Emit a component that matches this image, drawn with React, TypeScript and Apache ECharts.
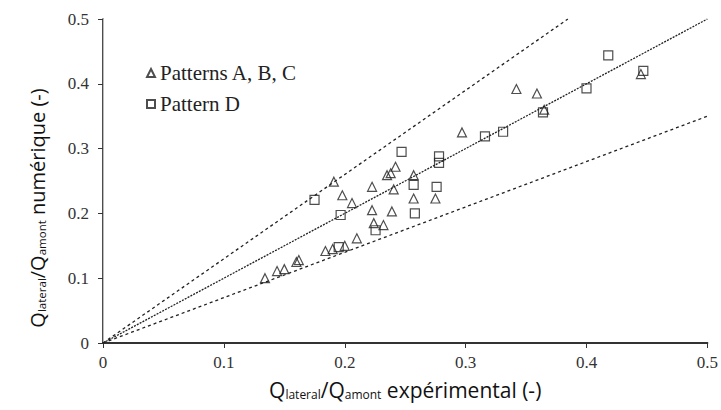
import React, { useEffect, useRef } from "react";
import * as echarts from "echarts";

const xTicks = [0, 0.1, 0.2, 0.3, 0.4, 0.5];
const yTicks = [0, 0.1, 0.2, 0.3, 0.4, 0.5];

// Patterns A, B, C (triangles): [Q exp, Q num]
const patternsABC: number[][] = [
  [0.134, 0.1], [0.144, 0.111], [0.15, 0.114], [0.16, 0.125], [0.162, 0.128],
  [0.184, 0.142], [0.19, 0.145], [0.2, 0.15], [0.21, 0.1615],
  [0.224, 0.185], [0.232, 0.182], [0.2226, 0.205], [0.239, 0.203],
  [0.257, 0.223], [0.275, 0.223], [0.198, 0.228], [0.206, 0.216],
  [0.2226, 0.241], [0.2405, 0.237], [0.191, 0.249], [0.235, 0.259],
  [0.238, 0.262], [0.257, 0.259], [0.242, 0.272], [0.297, 0.325],
  [0.342, 0.392], [0.359, 0.385], [0.365, 0.36], [0.445, 0.415],
];

// Pattern D (squares)
const patternD: number[][] = [
  [0.175, 0.221], [0.195, 0.148], [0.1966, 0.1975], [0.2255, 0.174],
  [0.258, 0.2], [0.257, 0.244], [0.276, 0.241], [0.247, 0.295],
  [0.278, 0.288], [0.278, 0.278], [0.316, 0.319], [0.331, 0.326],
  [0.364, 0.356], [0.4, 0.393], [0.418, 0.444], [0.447, 0.42],
];

// reference lines: 1:1, +30 %, -30 %
const lineEqual: number[][] = [[0, 0], [0.5, 0.5]];
const lineUpper: number[][] = [[0, 0], [0.3846, 0.5]];
const lineLower: number[][] = [[0, 0], [0.5, 0.35]];

const xTitle = "{m|Q}{s|lateral}{m|/Q}{s|amont}{m| expérimental (-)}";
const yTitle = "{m|Q}{s|lateral}{m|/Q}{s|amont}{m| numérique (-)}";

const serif = "Liberation Serif";
const sans = "Open Sans";

const titleRich = {
  m: { fontFamily: sans, fontSize: 21, fill: "#111", color: "#111", lineHeight: 26, verticalAlign: "bottom" },
  s: { fontFamily: sans, fontSize: 12, fill: "#111", color: "#111", lineHeight: 12, verticalAlign: "bottom" },
};
const yTitleRich = {
  m: { ...titleRich.m, fontSize: 20 },
  s: { ...titleRich.s, fontSize: 11.5 },
};

const fmt = (ticks: number[]) => (v: number) =>
  String(ticks.find((t) => Math.abs(t - v) < 1e-9) ?? v);

export default function App() {
  const ref = useRef<HTMLDivElement>(null);
  useEffect(() => {
    if (!ref.current) return;
    const chart = echarts.init(ref.current, undefined, { renderer: "svg" });
    chart.setOption({
      animation: false,
      backgroundColor: "#fff",
      textStyle: { fontFamily: serif },
      grid: { left: 103, right: 12, top: 19, bottom: 67 },
      legend: {
        orient: "vertical",
        left: 141,
        top: 57,
        itemWidth: 8,
        itemHeight: 8,
        itemGap: 9,
        textStyle: { fontFamily: serif, fontSize: 21, color: "#222", lineHeight: 22 },
        data: [
          { name: "Patterns A, B, C", icon: "triangle" },
          { name: "Pattern D", icon: "rect" },
        ],
      },
      graphic: [
        {
          type: "text",
          x: 34,
          y: 208,
          rotation: Math.PI / 2,
          style: {
            text: yTitle,
            rich: yTitleRich,
            align: "center",
            verticalAlign: "middle",
          },
        },
      ],
      xAxis: [
        {
          type: "value",
          min: 0,
          max: 0.5,
          interval: 0.1,
          splitLine: { show: false },
          axisLine: { onZero: false, lineStyle: { color: "#111", width: 1.5 } },
          axisTick: { length: 5, lineStyle: { color: "#333" } },
          axisLabel: {
            fontFamily: serif,
            fontSize: 17,
            color: "#333",
            margin: 11,
            formatter: fmt(xTicks),
          },
          name: xTitle,
          nameLocation: "middle",
          nameGap: 31,
          nameTextStyle: { rich: titleRich },
        },
        {
          type: "value",
          position: "top",
          min: 0,
          max: 0.5,
          axisLine: { show: true, lineStyle: { color: "#333", width: 2 } },
          axisTick: { show: false },
          axisLabel: { show: false },
          splitLine: { show: false },
        },
      ],
      yAxis: [
        {
          type: "value",
          min: 0,
          max: 0.5,
          interval: 0.1,
          splitLine: { show: false },
          axisLine: { show: true, onZero: false, lineStyle: { color: "#111", width: 1.5 } },
          axisTick: { show: true, length: 5, lineStyle: { color: "#333" } },
          axisLabel: {
            fontFamily: serif,
            fontSize: 17,
            color: "#333",
            margin: 14,
            formatter: fmt(yTicks),
          },
        },
        {
          type: "value",
          position: "right",
          min: 0,
          max: 0.5,
          axisLine: { show: true, lineStyle: { color: "#bbb", width: 1 } },
          axisTick: { show: false },
          axisLabel: { show: false },
          splitLine: { show: false },
        },
      ],
      series: [
        {
          type: "line",
          data: lineUpper,
          symbol: "none",
          lineStyle: { color: "#222", width: 1.3, type: [3, 3] },
          silent: true,
        },
        {
          type: "line",
          data: lineLower,
          symbol: "none",
          lineStyle: { color: "#222", width: 1.3, type: [3, 3] },
          silent: true,
        },
        {
          type: "line",
          data: lineEqual,
          symbol: "none",
          lineStyle: { color: "#222", width: 1.3, type: [2, 1.2] },
          silent: true,
        },
        {
          name: "Patterns A, B, C",
          type: "scatter",
          data: patternsABC,
          symbol: "triangle",
          symbolSize: 9,
          itemStyle: { color: "rgba(255,255,255,0)", borderColor: "#222", borderWidth: 1.2 },
        },
        {
          name: "Pattern D",
          type: "scatter",
          data: patternD,
          symbol: "rect",
          symbolSize: 9,
          itemStyle: { color: "rgba(255,255,255,0)", borderColor: "#222", borderWidth: 1.2 },
        },
      ],
    });
    return () => chart.dispose();
  }, []);
  return <div ref={ref} style={{ width: 721, height: 410, position: "absolute", left: 0, top: 0 }} />;
}
